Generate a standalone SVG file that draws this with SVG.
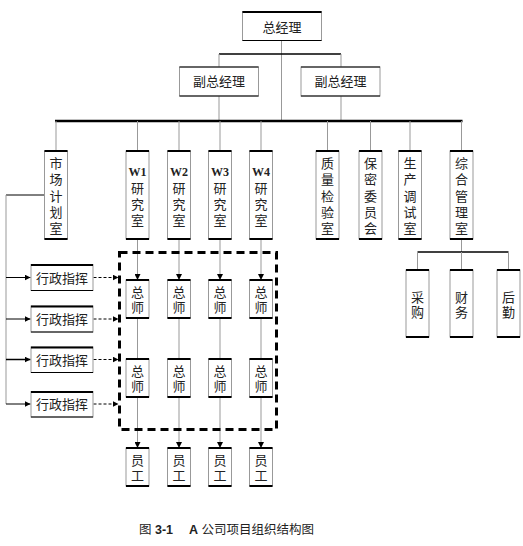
<svg xmlns="http://www.w3.org/2000/svg" width="523" height="546" viewBox="0 0 523 546">
<defs>
<style>
.bx{fill:#fff;stroke:#999;stroke-width:1}
.tb{stroke:#000;stroke-width:2}
.t{font-family:"Liberation Sans","Noto Sans CJK SC",sans-serif;font-size:13px;fill:#222;text-anchor:middle}
.w{font-family:"Liberation Serif",serif;font-weight:bold;font-size:12px}
.g{stroke:#999;stroke-width:1;fill:none}
.k{stroke:#000;stroke-width:1;fill:none}
.kb{stroke:#000;stroke-width:1.5;fill:none}
.bus{stroke:#000;stroke-width:2.5;fill:none}
.dash{stroke:#000;stroke-width:1;stroke-dasharray:3 2;fill:none}
</style>
<marker id="ah" viewBox="0 0 10 10" refX="10" refY="5" markerWidth="6" markerHeight="6" markerUnits="userSpaceOnUse" orient="auto"><path d="M0,0 L10,5 L0,10 z" fill="#000"/></marker>
</defs>
<rect width="523" height="546" fill="#fff"/>

<g id="connectors">
<line class="g" x1="281.5" y1="40" x2="281.5" y2="121"/>
<line class="kb" x1="219" y1="54" x2="341" y2="54"/>
<line class="g" x1="219" y1="54" x2="219" y2="67"/>
<line class="g" x1="341" y1="54" x2="341" y2="67"/>
<line class="g" x1="219" y1="96" x2="219" y2="121"/>
<line class="g" x1="341" y1="96" x2="341" y2="121"/>
<line class="bus" x1="55" y1="121" x2="462.5" y2="121"/>
<line class="g" x1="56" y1="121" x2="56" y2="151"/>
<line class="g" x1="137.5" y1="121" x2="137.5" y2="151"/>
<line class="g" x1="179" y1="121" x2="179" y2="151"/>
<line class="g" x1="220" y1="121" x2="220" y2="151"/>
<line class="g" x1="261" y1="121" x2="261" y2="151"/>
<line class="g" x1="327.5" y1="121" x2="327.5" y2="151"/>
<line class="g" x1="370.5" y1="121" x2="370.5" y2="151"/>
<line class="g" x1="410" y1="121" x2="410" y2="151"/>
<line class="g" x1="461.5" y1="121" x2="461.5" y2="151"/>
<line class="g" x1="461.5" y1="239" x2="461.5" y2="252"/>
<line class="kb" x1="417.5" y1="252" x2="508.5" y2="252"/>
<line class="g" x1="417.5" y1="252" x2="417.5" y2="270"/>
<line class="g" x1="461.5" y1="252" x2="461.5" y2="270"/>
<line class="g" x1="508.5" y1="252" x2="508.5" y2="270"/>
<line class="k" x1="44" y1="195" x2="6" y2="195"/>
<line class="g" x1="6" y1="195" x2="6" y2="404"/>
<line class="k" x1="6" y1="277.5" x2="30.5" y2="277.5" marker-end="url(#ah)"/>
<line class="k" x1="6" y1="319" x2="30.5" y2="319" marker-end="url(#ah)"/>
<line class="kb" x1="6" y1="359.5" x2="30.5" y2="359.5" marker-end="url(#ah)"/>
<line class="k" x1="6" y1="404" x2="30.5" y2="404" marker-end="url(#ah)"/>
<line class="dash" x1="93.5" y1="277.5" x2="118.5" y2="277.5" marker-end="url(#ah)"/>
<line class="dash" x1="93.5" y1="319" x2="118.5" y2="319" marker-end="url(#ah)"/>
<line class="dash" x1="93.5" y1="359.5" x2="118.5" y2="359.5" marker-end="url(#ah)" stroke-width="1.5"/>
<line class="dash" x1="93.5" y1="404" x2="118.5" y2="404" marker-end="url(#ah)"/>
<g>
<line class="g" x1="137.5" y1="239" x2="137.5" y2="280" marker-end="url(#ah)"/>
<line class="g" x1="179" y1="239" x2="179" y2="280" marker-end="url(#ah)"/>
<line class="g" x1="220" y1="239" x2="220" y2="280" marker-end="url(#ah)"/>
<line class="g" x1="261" y1="239" x2="261" y2="280" marker-end="url(#ah)"/>
<line class="g" x1="137.5" y1="318" x2="137.5" y2="359"/>
<line class="g" x1="179" y1="318" x2="179" y2="359"/>
<line class="g" x1="220" y1="318" x2="220" y2="359"/>
<line class="g" x1="261" y1="318" x2="261" y2="359"/>
<line class="g" x1="137.5" y1="397" x2="137.5" y2="448" marker-end="url(#ah)"/>
<line class="g" x1="179" y1="397" x2="179" y2="448" marker-end="url(#ah)"/>
<line class="g" x1="220" y1="397" x2="220" y2="448" marker-end="url(#ah)"/>
<line class="g" x1="261" y1="397" x2="261" y2="448" marker-end="url(#ah)"/>
</g>
<rect x="119.5" y="252.5" width="157" height="177" fill="none" stroke="#000" stroke-width="3" stroke-dasharray="8 5"/>
</g>

<g id="gm"><rect class="bx" x="242.5" y="11.5" width="79" height="29"/><line class="tb" x1="242.5" y1="12" x2="321.5" y2="12"/><line class="k" x1="242.5" y1="40.5" x2="321.5" y2="40.5"/><text class="t" x="282" y="32">总经理</text></g>
<g id="dgm1"><rect class="bx" x="179.5" y="67" width="79" height="29"/><line class="k" x1="179.5" y1="67" x2="258.5" y2="67"/><line class="k" x1="179.5" y1="96" x2="258.5" y2="96"/><text class="t" x="219" y="86">副总经理</text></g>
<g id="dgm2"><rect class="bx" x="301" y="67" width="79" height="29"/><line class="k" x1="301" y1="67" x2="380" y2="67"/><line class="k" x1="301" y1="96" x2="380" y2="96"/><text class="t" x="340.5" y="86">副总经理</text></g>

<g id="market"><rect class="bx" x="44.5" y="151" width="23" height="88"/><line class="tb" x1="44.5" y1="151" x2="67.5" y2="151"/><line class="tb" x1="44.5" y1="239" x2="67.5" y2="239"/>
<text class="t" x="56"><tspan x="56" y="167.5">市</tspan><tspan x="56" y="184">场</tspan><tspan x="56" y="200.5">计</tspan><tspan x="56" y="216.5">划</tspan><tspan x="56" y="233">室</tspan></text></g>

<g id="w1"><rect class="bx" x="126" y="151" width="23" height="88"/><line class="tb" x1="126" y1="151" x2="149" y2="151"/><line class="tb" x1="126" y1="239" x2="149" y2="239"/>
<text class="t" x="137.5"><tspan class="w" x="137.5" y="176">W1</tspan><tspan x="137.5" y="192.5">研</tspan><tspan x="137.5" y="209">究</tspan><tspan x="137.5" y="225">室</tspan></text></g>
<g id="w2"><rect class="bx" x="167.5" y="151" width="23" height="88"/><line class="tb" x1="167.5" y1="151" x2="190.5" y2="151"/><line class="tb" x1="167.5" y1="239" x2="190.5" y2="239"/>
<text class="t" x="179"><tspan class="w" x="179" y="176">W2</tspan><tspan x="179" y="192.5">研</tspan><tspan x="179" y="209">究</tspan><tspan x="179" y="225">室</tspan></text></g>
<g id="w3"><rect class="bx" x="208.5" y="151" width="23" height="88"/><line class="tb" x1="208.5" y1="151" x2="231.5" y2="151"/><line class="tb" x1="208.5" y1="239" x2="231.5" y2="239"/>
<text class="t" x="220"><tspan class="w" x="220" y="176">W3</tspan><tspan x="220" y="192.5">研</tspan><tspan x="220" y="209">究</tspan><tspan x="220" y="225">室</tspan></text></g>
<g id="w4"><rect class="bx" x="249.5" y="151" width="23" height="88"/><line class="tb" x1="249.5" y1="151" x2="272.5" y2="151"/><line class="tb" x1="249.5" y1="239" x2="272.5" y2="239"/>
<text class="t" x="261"><tspan class="w" x="261" y="176">W4</tspan><tspan x="261" y="192.5">研</tspan><tspan x="261" y="209">究</tspan><tspan x="261" y="225">室</tspan></text></g>

<g id="quality"><rect class="bx" x="316" y="151" width="23" height="88"/><line class="tb" x1="316" y1="151" x2="339" y2="151"/><line class="tb" x1="316" y1="239" x2="339" y2="239"/>
<text class="t" x="327.5"><tspan x="327.5" y="167.5">质</tspan><tspan x="327.5" y="184">量</tspan><tspan x="327.5" y="200.5">检</tspan><tspan x="327.5" y="216.5">验</tspan><tspan x="327.5" y="233">室</tspan></text></g>
<g id="secret"><rect class="bx" x="359" y="151" width="23" height="88"/><line class="tb" x1="359" y1="151" x2="382" y2="151"/><line class="tb" x1="359" y1="239" x2="382" y2="239"/>
<text class="t" x="370.5"><tspan x="370.5" y="167.5">保</tspan><tspan x="370.5" y="184">密</tspan><tspan x="370.5" y="200.5">委</tspan><tspan x="370.5" y="216.5">员</tspan><tspan x="370.5" y="233">会</tspan></text></g>
<g id="prod"><rect class="bx" x="398.5" y="151" width="23" height="88"/><line class="tb" x1="398.5" y1="151" x2="421.5" y2="151"/><line class="tb" x1="398.5" y1="239" x2="421.5" y2="239"/>
<text class="t" x="410"><tspan x="410" y="167.5">生</tspan><tspan x="410" y="184">产</tspan><tspan x="410" y="200.5">调</tspan><tspan x="410" y="216.5">试</tspan><tspan x="410" y="233">室</tspan></text></g>
<g id="admin"><rect class="bx" x="450" y="151" width="23" height="88"/><line class="tb" x1="450" y1="151" x2="473" y2="151"/><line class="tb" x1="450" y1="239" x2="473" y2="239"/>
<text class="t" x="461.5"><tspan x="461.5" y="167.5">综</tspan><tspan x="461.5" y="184">合</tspan><tspan x="461.5" y="200.5">管</tspan><tspan x="461.5" y="216.5">理</tspan><tspan x="461.5" y="233">室</tspan></text></g>

<g id="purchase"><rect class="bx" x="406" y="270" width="23" height="67"/><line class="tb" x1="406" y1="270" x2="429" y2="270"/><line class="tb" x1="406" y1="337" x2="429" y2="337"/>
<text class="t"><tspan x="417.5" y="301.5">采</tspan><tspan x="417.5" y="316.5">购</tspan></text></g>
<g id="finance"><rect class="bx" x="450" y="270" width="23" height="67"/><line class="tb" x1="450" y1="270" x2="473" y2="270"/><line class="tb" x1="450" y1="337" x2="473" y2="337"/>
<text class="t"><tspan x="461.5" y="301.5">财</tspan><tspan x="461.5" y="316.5">务</tspan></text></g>
<g id="logistics"><rect class="bx" x="497" y="270" width="23" height="67"/><line class="tb" x1="497" y1="270" x2="520" y2="270"/><line class="tb" x1="497" y1="337" x2="520" y2="337"/>
<text class="t"><tspan x="508.5" y="301.5">后</tspan><tspan x="508.5" y="316.5">勤</tspan></text></g>

<g id="cmd1"><rect class="bx" x="31" y="264.5" width="62" height="26"/><line class="tb" x1="31" y1="265" x2="93" y2="265"/><line class="k" x1="31" y1="290.5" x2="93" y2="290.5"/><text class="t" x="62" y="282.5">行政指挥</text></g>
<g id="cmd2"><rect class="bx" x="31" y="306" width="62" height="26"/><line class="tb" x1="31" y1="306.5" x2="93" y2="306.5"/><line class="k" x1="31" y1="332" x2="93" y2="332"/><text class="t" x="62" y="324">行政指挥</text></g>
<g id="cmd3"><rect class="bx" x="31" y="347" width="62" height="25.5"/><line class="tb" x1="31" y1="347.5" x2="93" y2="347.5"/><line class="k" x1="31" y1="372.5" x2="93" y2="372.5"/><text class="t" x="62" y="364.5">行政指挥</text></g>
<g id="cmd4"><rect class="bx" x="31" y="391.5" width="62" height="25.5"/><line class="tb" x1="31" y1="392" x2="93" y2="392"/><line class="k" x1="31" y1="417" x2="93" y2="417"/><text class="t" x="62" y="409">行政指挥</text></g>

<g id="eng1a"><rect class="bx" x="126" y="280" width="23" height="38"/><line class="tb" x1="126" y1="280" x2="149" y2="280"/><line class="tb" x1="126" y1="318" x2="149" y2="318"/><text class="t"><tspan x="137.5" y="296.5">总</tspan><tspan x="137.5" y="311.5">师</tspan></text></g>
<g id="eng2a"><rect class="bx" x="167.5" y="280" width="23" height="38"/><line class="tb" x1="167.5" y1="280" x2="190.5" y2="280"/><line class="tb" x1="167.5" y1="318" x2="190.5" y2="318"/><text class="t"><tspan x="179" y="296.5">总</tspan><tspan x="179" y="311.5">师</tspan></text></g>
<g id="eng3a"><rect class="bx" x="208.5" y="280" width="23" height="38"/><line class="tb" x1="208.5" y1="280" x2="231.5" y2="280"/><line class="tb" x1="208.5" y1="318" x2="231.5" y2="318"/><text class="t"><tspan x="220" y="296.5">总</tspan><tspan x="220" y="311.5">师</tspan></text></g>
<g id="eng4a"><rect class="bx" x="249.5" y="280" width="23" height="38"/><line class="tb" x1="249.5" y1="280" x2="272.5" y2="280"/><line class="tb" x1="249.5" y1="318" x2="272.5" y2="318"/><text class="t"><tspan x="261" y="296.5">总</tspan><tspan x="261" y="311.5">师</tspan></text></g>

<g id="eng1b"><rect class="bx" x="126" y="359" width="23" height="38"/><line class="tb" x1="126" y1="359" x2="149" y2="359"/><line class="tb" x1="126" y1="397" x2="149" y2="397"/><text class="t"><tspan x="137.5" y="375.5">总</tspan><tspan x="137.5" y="390.5">师</tspan></text></g>
<g id="eng2b"><rect class="bx" x="167.5" y="359" width="23" height="38"/><line class="tb" x1="167.5" y1="359" x2="190.5" y2="359"/><line class="tb" x1="167.5" y1="397" x2="190.5" y2="397"/><text class="t"><tspan x="179" y="375.5">总</tspan><tspan x="179" y="390.5">师</tspan></text></g>
<g id="eng3b"><rect class="bx" x="208.5" y="359" width="23" height="38"/><line class="tb" x1="208.5" y1="359" x2="231.5" y2="359"/><line class="tb" x1="208.5" y1="397" x2="231.5" y2="397"/><text class="t"><tspan x="220" y="375.5">总</tspan><tspan x="220" y="390.5">师</tspan></text></g>
<g id="eng4b"><rect class="bx" x="249.5" y="359" width="23" height="38"/><line class="tb" x1="249.5" y1="359" x2="272.5" y2="359"/><line class="tb" x1="249.5" y1="397" x2="272.5" y2="397"/><text class="t"><tspan x="261" y="375.5">总</tspan><tspan x="261" y="390.5">师</tspan></text></g>

<g id="staff1"><rect class="bx" x="126" y="448" width="23" height="38"/><line class="tb" x1="126" y1="448" x2="149" y2="448"/><line class="tb" x1="126" y1="486" x2="149" y2="486"/><text class="t"><tspan x="137.5" y="464.5">员</tspan><tspan x="137.5" y="479.5">工</tspan></text></g>
<g id="staff2"><rect class="bx" x="167.5" y="448" width="23" height="38"/><line class="tb" x1="167.5" y1="448" x2="190.5" y2="448"/><line class="tb" x1="167.5" y1="486" x2="190.5" y2="486"/><text class="t"><tspan x="179" y="464.5">员</tspan><tspan x="179" y="479.5">工</tspan></text></g>
<g id="staff3"><rect class="bx" x="208.5" y="448" width="23" height="38"/><line class="tb" x1="208.5" y1="448" x2="231.5" y2="448"/><line class="tb" x1="208.5" y1="486" x2="231.5" y2="486"/><text class="t"><tspan x="220" y="464.5">员</tspan><tspan x="220" y="479.5">工</tspan></text></g>
<g id="staff4"><rect class="bx" x="249.5" y="448" width="23" height="38"/><line class="tb" x1="249.5" y1="448" x2="272.5" y2="448"/><line class="tb" x1="249.5" y1="486" x2="272.5" y2="486"/><text class="t"><tspan x="261" y="464.5">员</tspan><tspan x="261" y="479.5">工</tspan></text></g>

<text id="caption" x="139" y="533.5" style="font-family:'Liberation Sans','Noto Sans CJK SC',sans-serif;font-size:12.5px;fill:#222">图 <tspan style="font-weight:bold">3-1</tspan>　 <tspan style="font-weight:bold">A</tspan> 公司项目组织结构图</text>
</svg>
